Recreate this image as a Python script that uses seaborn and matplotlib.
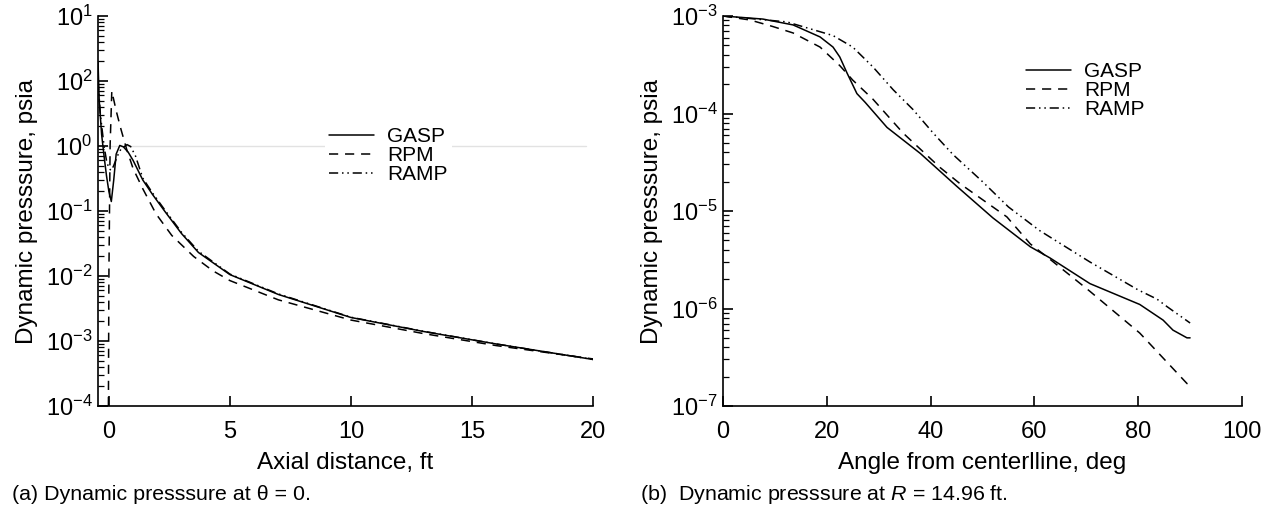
import numpy as np
import pandas as pd
import matplotlib
matplotlib.use("Agg")
import matplotlib.pyplot as plt
import seaborn as sns
from matplotlib.ticker import FixedLocator, FixedFormatter, LogLocator, NullFormatter
from matplotlib.lines import Line2D

# ---------------- data: (a) axial distance ----------------
gasp_a_x = [-0.45, -0.4, -0.3, -0.2, -0.1, 0.0, 0.1, 0.2, 0.3, 0.45, 0.6, 0.8, 1.0, 1.4, 1.8, 2.3, 3.0, 3.7, 5.0, 7.0, 10.0, 13.0, 16.0, 20.0]
gasp_a_y = [20, 5, 1.5, 0.7, 0.35, 0.2, 0.14, 0.3, 0.75, 1.02, 0.97, 0.8, 0.6, 0.3, 0.18, 0.1, 0.045, 0.023, 0.0105, 0.0052, 0.0023, 0.0014, 0.00090, 0.00052]

rpm_a_x = [-0.02, 0.0, 0.05, 0.12, 0.3, 0.5, 0.73, 1.0, 1.4, 1.95, 2.6, 3.5, 4.3, 5.0, 7.0, 10.0, 13.0, 16.0, 20.0]
rpm_a_y = [1e-4, 1e-2, 1.0, 7.0, 3.5, 1.8, 0.9, 0.45, 0.22, 0.09, 0.042, 0.02, 0.012, 0.0085, 0.0043, 0.0021, 0.0013, 0.00085, 0.00053]

ramp_a_x = [-0.45, -0.35, -0.2, -0.1, 0.0, 0.1, 0.2, 0.35, 0.5, 0.75, 0.9, 1.1, 1.4, 1.8, 2.3, 3.0, 3.7, 5.0, 7.0, 10.0, 13.0, 16.0, 20.0]
ramp_a_y = [10, 3, 1.0, 0.6, 0.45, 0.42, 0.5, 0.7, 0.9, 1.05, 0.98, 0.7, 0.32, 0.19, 0.105, 0.047, 0.024, 0.0107, 0.0053, 0.00232, 0.00141, 0.00090, 0.00052]

# ---------------- data: (b) angle from centerline ----------------
gasp_b_x = [0, 7.7, 13.5, 18.7, 21.2, 22.5, 23.9, 25.8, 27.4, 31.6, 38, 45, 52, 59.2, 63, 70.7, 80.3, 84.8, 86.7, 89.4, 90]
gasp_b_y = [1e-3, 9.3e-4, 8.1e-4, 6.1e-4, 4.8e-4, 3.8e-4, 2.6e-4, 1.6e-4, 1.3e-4, 7.2e-5, 3.9e-5, 1.8e-5, 8.5e-6, 4.3e-6, 3.3e-6, 1.8e-6, 1.1e-6, 7.6e-7, 6.0e-7, 5.0e-7, 5.0e-7]

rpm_b_x = [0, 5.2, 9.6, 13.5, 18.7, 22.5, 25, 28.9, 34.7, 41.8, 45.7, 54.7, 59.2, 63.0, 70.7, 80.3, 89.4, 90]
rpm_b_y = [1e-3, 9.1e-4, 7.8e-4, 6.7e-4, 4.8e-4, 3.1e-4, 2.2e-4, 1.4e-4, 6.3e-5, 2.8e-5, 1.9e-5, 8.7e-6, 4.6e-6, 3.2e-6, 1.5e-6, 5.6e-7, 1.7e-7, 1.65e-7]

ramp_b_x = [0, 12.3, 21.2, 25, 28.9, 32.8, 36.6, 40.5, 44.3, 50, 55, 61, 70.7, 80, 83.6, 85.5, 90]
ramp_b_y = [1e-3, 8.7e-4, 6.3e-4, 4.8e-4, 3.0e-4, 1.75e-4, 1.1e-4, 6.3e-5, 3.8e-5, 2.0e-5, 1.1e-5, 6.3e-6, 3.0e-6, 1.55e-6, 1.25e-6, 1.05e-6, 7.1e-7]

series_names = ["GASP", "RPM", "RAMP"]

# tick labels as printed on the original (left panel)
left_ytick_values = [1e-4, 1e-3, 1e-2, 1e-1, 1e0, 1e1, 1e2]
left_ytick_labels = [r"$10^{-4}$", r"$10^{-3}$", r"$10^{-2}$", r"$10^{-1}$", r"$10^{0}$", r"$10^{2}$", r"$10^{1}$"]
left_xticks = [0, 5, 10, 15, 20]
right_ytick_values = [1e-7, 1e-6, 1e-5, 1e-4, 1e-3]
right_ytick_labels = [r"$10^{-7}$", r"$10^{-6}$", r"$10^{-5}$", r"$10^{-4}$", r"$10^{-3}$"]
right_xticks = [0, 20, 40, 60, 80, 100]

# ---------------- styling ----------------
sns.set_theme(style="ticks")
plt.rcParams["font.family"] = ["Liberation Sans", "DejaVu Sans"]
plt.rcParams["mathtext.fontset"] = "custom"
plt.rcParams["mathtext.rm"] = "Liberation Sans"
plt.rcParams["mathtext.it"] = "Liberation Sans:italic"
plt.rcParams["mathtext.bf"] = "Liberation Sans:bold"
plt.rcParams["mathtext.default"] = "regular"

TICK_FS = 17
LABEL_FS = 17.5
CAP_FS = 15.4
LEG_FS = 15
styles = {
    "GASP": "-",
    "RPM": (0, (6, 4.5)),
    "RAMP": (0, (6, 2.5, 1, 2.5, 1, 2.5)),
}
LW = 1.1

fig = plt.figure(figsize=(12.68, 5.16), dpi=100)
axL = fig.add_axes([98 / 1268, 1 - 406 / 516, 495 / 1268, 390 / 516])
axR = fig.add_axes([723 / 1268, 1 - 406 / 516, 519 / 1268, 390 / 516])


def draw(ax, xs, ys):
    for name, x, y in zip(series_names, xs, ys):
        df = pd.DataFrame({"x": x, "y": y})
        sns.lineplot(data=df, x="x", y="y", ax=ax, color="black", linewidth=LW,
                     linestyle=styles[name], errorbar=None, sort=False)


def style_axes(ax):
    sns.despine(ax=ax)
    for s in ["left", "bottom"]:
        ax.spines[s].set_linewidth(1.2)
        ax.spines[s].set_color("black")
    ax.tick_params(axis="both", which="major", direction="in", length=7, width=1.2,
                   labelsize=TICK_FS, colors="black")
    ax.tick_params(axis="x", which="major", pad=11)
    ax.tick_params(axis="y", which="major", pad=4)
    ax.tick_params(axis="both", which="minor", direction="in", length=4, width=0.9, colors="black")


# left panel
axL.axhline(1.0, xmin=0, xmax=0.986, color="#e2e2e2", linewidth=1.0, zorder=0)
draw(axL, [gasp_a_x, rpm_a_x, ramp_a_x], [gasp_a_y, rpm_a_y, ramp_a_y])
axL.set_yscale("log")
axL.set_xlim(-0.45, 20)
axL.set_ylim(1e-4, 1e2)
axL.yaxis.set_major_locator(FixedLocator(left_ytick_values))
axL.yaxis.set_major_formatter(FixedFormatter(left_ytick_labels))
axL.yaxis.set_minor_locator(LogLocator(base=10, subs=np.arange(2, 10), numticks=20))
axL.yaxis.set_minor_formatter(NullFormatter())
axL.set_xticks(left_xticks)
axL.set_xticklabels([str(v) for v in left_xticks])
style_axes(axL)
axL.set_xlabel("Axial distance, ft", fontsize=LABEL_FS, color="black", labelpad=6)
axL.set_ylabel("Dynamic presssure, psia", fontsize=LABEL_FS, color="black", labelpad=5.5)

# right panel
draw(axR, [gasp_b_x, rpm_b_x, ramp_b_x], [gasp_b_y, rpm_b_y, ramp_b_y])
axR.set_yscale("log")
axR.set_xlim(0, 100)
axR.set_ylim(1e-7, 1e-3)
axR.yaxis.set_major_locator(FixedLocator(right_ytick_values))
axR.yaxis.set_major_formatter(FixedFormatter(right_ytick_labels))
axR.yaxis.set_minor_locator(LogLocator(base=10, subs=np.arange(2, 10), numticks=20))
axR.yaxis.set_minor_formatter(NullFormatter())
axR.set_xticks(right_xticks)
axR.set_xticklabels([str(v) for v in right_xticks])
style_axes(axR)
axR.set_xlabel("Angle from centerlline, deg", fontsize=LABEL_FS, color="black", labelpad=6)
axR.set_ylabel("Dynamic presssure, psia", fontsize=LABEL_FS, color="black", labelpad=5.5)

# legends
handles = [Line2D([], [], color="black", linewidth=LW, linestyle=styles[n]) for n in series_names]
for ax, anchor in [(axL, (325 / 1268, 1 - 123 / 516)), (axR, (1022 / 1268, 1 - 58 / 516))]:
    leg = ax.legend(handles, series_names, loc="upper left", bbox_to_anchor=anchor,
                    bbox_transform=fig.transFigure, fontsize=LEG_FS, frameon=True,
                    handlelength=2.15, handletextpad=0.62, labelspacing=0.0,
                    borderpad=0.2, borderaxespad=0)
    fr = leg.get_frame()
    fr.set_facecolor("white")
    fr.set_edgecolor("none")
    fr.set_alpha(1)
    for t in leg.get_texts():
        t.set_color("black")

# captions
fig.text(12 / 1268, 1 - 494 / 516, "(a) Dynamic presssure at θ = 0.", fontsize=CAP_FS,
         ha="left", va="center", color="black")
fig.text(640 / 1268, 1 - 494 / 516, r"(b)  Dynamic presssure at $\mathit{R}$ = 14.96 ft.", fontsize=CAP_FS,
         ha="left", va="center", color="black")

fig.savefig("out.png", dpi=100, facecolor="white")
